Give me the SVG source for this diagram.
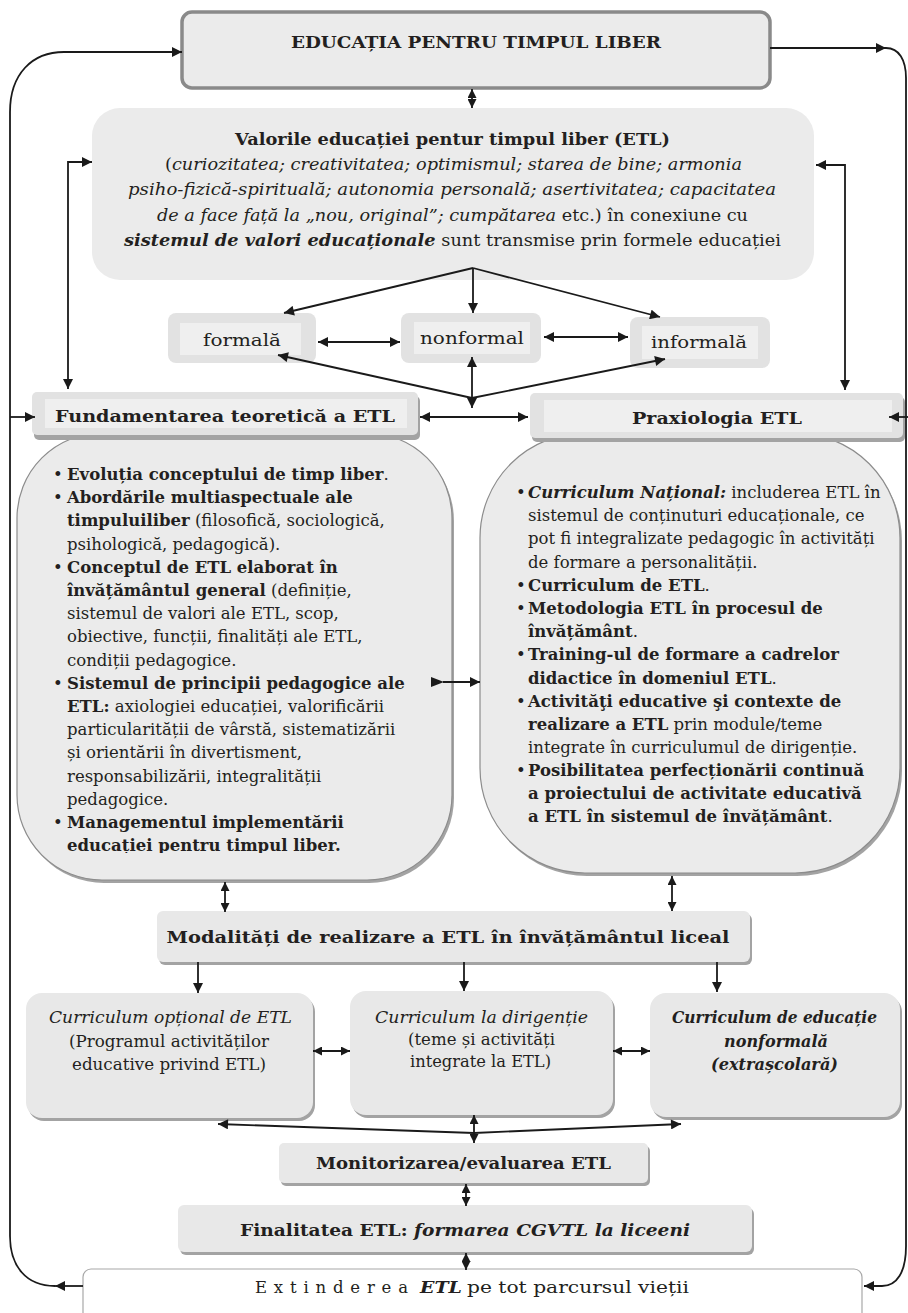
<svg xmlns="http://www.w3.org/2000/svg" width="908" height="1313" viewBox="0 0 908 1313">
<style>
.t{font-family:"DejaVu Serif","Liberation Serif",serif;fill:#231f20;font-size:16.5px}
.b{font-weight:bold}
.i{font-style:italic}
.c{text-anchor:middle}
.ln{fill:none;stroke:#1a1a1a;stroke-width:1.8}
.sh{fill:#a3a3a3}
.bx{fill:#e8e8e8}
.out{fill:#e2e2e2}
.inn{fill:#efefef}
</style>
<defs>
<marker id="ah" viewBox="0 0 10 10" refX="10" refY="5" markerWidth="11" markerHeight="10" markerUnits="userSpaceOnUse" orient="auto-start-reverse"><path d="M0,0 L10,5 L0,10 z" fill="#1a1a1a"/></marker>
<marker id="as" viewBox="0 0 10 10" refX="10" refY="5" markerWidth="9" markerHeight="9" markerUnits="userSpaceOnUse" orient="auto-start-reverse"><path d="M0,0 L10,5 L0,10 z" fill="#1a1a1a"/></marker>
<clipPath id="clipL"><rect x="17" y="433" width="435" height="420"/></clipPath>
</defs>

<g id="n-top">
<rect x="182" y="12" width="588" height="76" rx="10" fill="#ebebeb" stroke="#8a8a8a" stroke-width="3.5"/>
<text class="t b c" x="476" y="48" font-size="21" textLength="370" lengthAdjust="spacingAndGlyphs">EDUCAȚIA PENTRU TIMPUL LIBER</text>
</g>

<g id="n-values">
<rect x="92" y="108" width="722" height="172" rx="28" fill="#ebebeb"/>
<text class="t b c" x="452.5" y="145" font-size="20" textLength="435" lengthAdjust="spacingAndGlyphs">Valorile educației pentur timpul liber (ETL)</text>
<text class="t c" x="453.5" y="170" font-size="18" textLength="577" lengthAdjust="spacingAndGlyphs">(<tspan class="i">curiozitatea; creativitatea; optimismul; starea de bine; armonia</tspan></text>
<text class="t c i" x="452" y="195" font-size="18" textLength="648" lengthAdjust="spacingAndGlyphs">psiho-fizică-spirituală; autonomia personală; asertivitatea; capacitatea</text>
<text class="t c" x="452.5" y="220.5" font-size="18" textLength="591" lengthAdjust="spacingAndGlyphs"><tspan class="i">de a face față la „nou, original”; cumpătarea</tspan> etc.) în conexiune cu</text>
<text class="t c" x="452.5" y="246" font-size="18" textLength="657" lengthAdjust="spacingAndGlyphs"><tspan class="b i">sistemul de valori educaționale</tspan> sunt transmise prin formele educației</text>
</g>

<g id="n-formala">
<rect class="out" x="168" y="313" width="148" height="50" rx="8"/>
<rect class="inn" x="180" y="323" width="121" height="32"/>
<text class="t c" x="242" y="346" font-size="22" textLength="78" lengthAdjust="spacingAndGlyphs">formală</text>
</g>
<g id="n-nonformal">
<rect class="out" x="401" y="313" width="140" height="50" rx="8"/>
<rect class="inn" x="414" y="322" width="116" height="32"/>
<text class="t c" x="472" y="344" font-size="22" textLength="104" lengthAdjust="spacingAndGlyphs">nonformal</text>
</g>
<g id="n-informala">
<rect class="out" x="630" y="317" width="140" height="51" rx="8"/>
<rect class="inn" x="642" y="326" width="116" height="33"/>
<text class="t c" x="699" y="348" font-size="22" textLength="96" lengthAdjust="spacingAndGlyphs">informală</text>
</g>

<g id="n-left-body">
<rect class="sh" x="19" y="436" width="435" height="447" rx="85"/>
<rect x="17" y="433" width="435" height="447" rx="85" fill="#ebebeb" stroke="#8c8c8c" stroke-width="1.2"/>
<g clip-path="url(#clipL)">
<text class="t" x="53" y="480">•</text><text class="t" x="67" y="480"><tspan class="b">Evoluția conceptului de timp liber</tspan>.</text>
<text class="t" x="53" y="503">•</text><text class="t b" x="67" y="503">Abordările multiaspectuale ale</text>
<text class="t" x="67" y="526"><tspan class="b">timpuluiliber</tspan> (filosofică, sociologică,</text>
<text class="t" x="67" y="550">psihologică, pedagogică).</text>
<text class="t" x="53" y="573">•</text><text class="t b" x="67" y="573">Conceptul de ETL elaborat în</text>
<text class="t" x="67" y="596"><tspan class="b">învățământul general</tspan> (definiție,</text>
<text class="t" x="67" y="619">sistemul de valori ale ETL, scop,</text>
<text class="t" x="67" y="642">obiective, funcții, finalități  ale ETL,</text>
<text class="t" x="67" y="666">condiții pedagogice.</text>
<text class="t" x="53" y="689">•</text><text class="t b" x="67" y="689">Sistemul de principii pedagogice ale</text>
<text class="t" x="67" y="712"><tspan class="b">ETL:</tspan> axiologiei educației, valorificării</text>
<text class="t" x="67" y="735">particularității de vârstă, sistematizării</text>
<text class="t" x="67" y="758">și orientării în divertisment,</text>
<text class="t" x="67" y="782">responsabilizării, integralității</text>
<text class="t" x="67" y="805">pedagogice.</text>
<text class="t" x="53" y="828">•</text><text class="t b" x="67" y="828">Managementul implementării</text>
<text class="t b" x="67" y="851">educației pentru timpul liber.</text>
</g>
</g>

<g id="n-right-body">
<rect class="sh" x="482" y="436" width="420" height="440" rx="105"/>
<rect x="480" y="433" width="420" height="440" rx="105" fill="#ebebeb" stroke="#8c8c8c" stroke-width="1.2"/>
<text class="t" x="516" y="498">•</text><text class="t" x="528" y="498"><tspan class="b i">Curriculum Național:</tspan> includerea ETL în</text>
<text class="t" x="528" y="521">sistemul de conținuturi educaționale, ce</text>
<text class="t" x="528" y="544">pot fi integralizate pedagogic în activități</text>
<text class="t" x="528" y="567.5">de formare a personalității.</text>
<text class="t" x="516" y="591">•</text><text class="t" x="528" y="591"><tspan class="b">Curriculum de ETL</tspan>.</text>
<text class="t" x="516" y="614">•</text><text class="t b" x="528" y="614">Metodologia ETL în procesul de</text>
<text class="t" x="528" y="637"><tspan class="b">învățământ</tspan>.</text>
<text class="t" x="516" y="660">•</text><text class="t b" x="528" y="660">Training-ul de formare a cadrelor</text>
<text class="t" x="528" y="683.5"><tspan class="b">didactice în domeniul ETL</tspan>.</text>
<text class="t" x="516" y="707">•</text><text class="t b" x="528" y="707">Activităţi educative şi contexte de</text>
<text class="t" x="528" y="730"><tspan class="b">realizare a ETL</tspan> prin module/teme</text>
<text class="t" x="528" y="753">integrate în curriculumul de dirigenție.</text>
<text class="t" x="516" y="776">•</text><text class="t b" x="528" y="776">Posibilitatea perfecționării continuă</text>
<text class="t b" x="528" y="799">a proiectului de activitate educativă</text>
<text class="t" x="528" y="822"><tspan class="b">a ETL în sistemul de învățământ</tspan>.</text>
</g>

<g id="n-fundamentarea">
<rect class="sh" x="34" y="396" width="386" height="44" rx="5"/>
<rect class="out" x="32" y="392" width="386" height="43" rx="5"/>
<rect class="inn" x="45" y="399" width="362" height="29"/>
<text class="t b c" x="225" y="422" font-size="21" textLength="340" lengthAdjust="spacingAndGlyphs">Fundamentarea teoretică a ETL</text>
</g>

<g id="n-praxiologia">
<rect class="sh" x="532" y="397" width="373" height="45" rx="5"/>
<rect class="out" x="530" y="393" width="373" height="45" rx="5"/>
<rect class="inn" x="544" y="400" width="348" height="32"/>
<text class="t b c" x="717" y="424" font-size="21" textLength="170" lengthAdjust="spacingAndGlyphs">Praxiologia ETL</text>
</g>

<g id="n-modalitati">
<rect class="sh" x="159" y="914" width="593" height="51" rx="6"/>
<rect class="bx" x="157" y="911" width="593" height="51" rx="6"/>
<text class="t b c" x="448" y="943" font-size="21.5" textLength="563" lengthAdjust="spacingAndGlyphs">Modalități de realizare a ETL în învățământul liceal</text>
</g>

<g id="n-optional">
<rect class="sh" x="28" y="996" width="287" height="125" rx="16"/>
<rect class="bx" x="26" y="993" width="287" height="125" rx="16"/>
<text class="t i c" x="170.5" y="1023" font-size="18.5" textLength="243" lengthAdjust="spacingAndGlyphs">Curriculum opțional de ETL</text>
<text class="t c" x="169" y="1047" font-size="18.5" textLength="200" lengthAdjust="spacingAndGlyphs">(Programul activităților</text>
<text class="t c" x="169" y="1070" font-size="18.5" textLength="194" lengthAdjust="spacingAndGlyphs">educative privind ETL)</text>
</g>

<g id="n-dirigentie">
<rect class="sh" x="352" y="994" width="263" height="124" rx="16"/>
<rect class="bx" x="350" y="991" width="263" height="124" rx="16"/>
<text class="t i c" x="481.5" y="1023" font-size="18.5" textLength="213" lengthAdjust="spacingAndGlyphs">Curriculum la dirigenție</text>
<text class="t c" x="481.5" y="1045" font-size="18.5" textLength="147" lengthAdjust="spacingAndGlyphs">(teme și activități</text>
<text class="t c" x="480.5" y="1067" font-size="18.5" textLength="141" lengthAdjust="spacingAndGlyphs">integrate la ETL)</text>
</g>

<g id="n-nonformala">
<rect class="sh" x="652" y="996" width="250" height="124" rx="16"/>
<rect class="bx" x="650" y="993" width="250" height="124" rx="16"/>
<text class="t b i c" x="774.5" y="1023" font-size="18.5" textLength="205" lengthAdjust="spacingAndGlyphs">Curriculum de educație</text>
<text class="t b i c" x="776" y="1047" font-size="18.5" textLength="104" lengthAdjust="spacingAndGlyphs">nonformală</text>
<text class="t b i c" x="774.5" y="1070" font-size="18.5" textLength="127" lengthAdjust="spacingAndGlyphs">(extrașcolară)</text>
</g>

<g id="n-monitorizare">
<rect class="sh" x="281" y="1146" width="369" height="40" rx="5"/>
<rect class="bx" x="279" y="1143" width="369" height="40" rx="5"/>
<text class="t b c" x="463.5" y="1169" font-size="19.5" textLength="295" lengthAdjust="spacingAndGlyphs">Monitorizarea/evaluarea ETL</text>
</g>

<g id="n-finalitate">
<rect class="sh" x="180" y="1208" width="574" height="47" rx="6"/>
<rect class="bx" x="178" y="1205" width="574" height="47" rx="6"/>
<text class="t b c" x="465" y="1236" font-size="21.5" textLength="450" lengthAdjust="spacingAndGlyphs">Finalitatea ETL: <tspan class="i">formarea CGVTL la liceeni</tspan></text>
</g>

<g id="n-extindere">
<rect x="83" y="1269" width="779" height="60" rx="8" fill="#ffffff" stroke="#a8a8a8" stroke-width="1.2"/>
<text class="t" x="255" y="1293" font-size="21" textLength="153" lengthAdjust="spacing">Extinderea</text>
<text class="t b i" x="420" y="1293" font-size="21" textLength="42" lengthAdjust="spacingAndGlyphs">ETL</text>
<text class="t" x="467" y="1293" font-size="21" textLength="222" lengthAdjust="spacingAndGlyphs">pe tot parcursul vieții</text>
</g>

<g id="connectors">
<path class="ln" d="M83,1286 L55,1286" marker-end="url(#ah)"/>
<path class="ln" d="M55,1286 C26,1286 10,1266 10,1236 L10,112 C10,74 32,52 64,52 L182,52" marker-end="url(#ah)"/>
<path class="ln" d="M770,48 L886,48" marker-end="url(#ah)"/>
<path class="ln" d="M886,48 C899,48 906,60 906,78 L906,1246 C906,1272 897,1286 882,1286 L864,1286" marker-end="url(#ah)"/>
<path class="ln" d="M10,417 L35,417" marker-end="url(#ah)"/>
<path class="ln" d="M908,417 L889,417" marker-end="url(#ah)"/>
<path class="ln" d="M472,89 L472,108" marker-start="url(#as)" marker-end="url(#as)"/>
<path class="ln" d="M68,389 L68,162 L92,162" marker-start="url(#ah)" marker-end="url(#ah)"/>
<path class="ln" d="M845,390 L845,165 L816,165" marker-start="url(#ah)" marker-end="url(#ah)"/>
<path class="ln" d="M473,268 L284,313" marker-end="url(#ah)"/>
<path class="ln" d="M473,268 L473,313" marker-end="url(#ah)"/>
<path class="ln" d="M473,268 L660,317" marker-end="url(#ah)"/>
<path class="ln" d="M318,342 L400,342" marker-start="url(#ah)" marker-end="url(#ah)"/>
<path class="ln" d="M544,337 L628,337" marker-start="url(#ah)" marker-end="url(#ah)"/>
<path class="ln" d="M472,398 L278,355" marker-end="url(#ah)"/>
<path class="ln" d="M472,398 L665,359" marker-end="url(#ah)"/>
<path class="ln" d="M472,408 L472,357" marker-start="url(#ah)" marker-end="url(#ah)"/>
<path class="ln" d="M420,417 L528,417" marker-start="url(#ah)" marker-end="url(#ah)"/>
<path class="ln" d="M443,682 L480,682" marker-end="url(#ah)"/>
<path d="M431,677 L444,682 L431,687 z" fill="#1a1a1a"/>
<path class="ln" d="M225,882 L225,912" marker-start="url(#as)" marker-end="url(#as)"/>
<path class="ln" d="M672,876 L672,911" marker-start="url(#as)" marker-end="url(#as)"/>
<path class="ln" d="M198,962 L198,993" marker-end="url(#ah)"/>
<path class="ln" d="M464,962 L464,991" marker-end="url(#ah)"/>
<path class="ln" d="M717,962 L717,992" marker-end="url(#ah)"/>
<path class="ln" d="M313,1051 L350,1051" marker-start="url(#as)" marker-end="url(#as)"/>
<path class="ln" d="M613,1051 L650,1051" marker-start="url(#as)" marker-end="url(#as)"/>
<path class="ln" d="M474,1133 L218,1124" marker-end="url(#ah)"/>
<path class="ln" d="M474,1133 L681,1124" marker-end="url(#ah)"/>
<path class="ln" d="M474,1115 L474,1143" marker-start="url(#as)" marker-end="url(#as)"/>
<path class="ln" d="M466,1184 L466,1206" marker-start="url(#as)" marker-end="url(#as)"/>
<path class="ln" d="M466,1253 L466,1270" marker-start="url(#as)" marker-end="url(#as)"/>
</g>
</svg>
